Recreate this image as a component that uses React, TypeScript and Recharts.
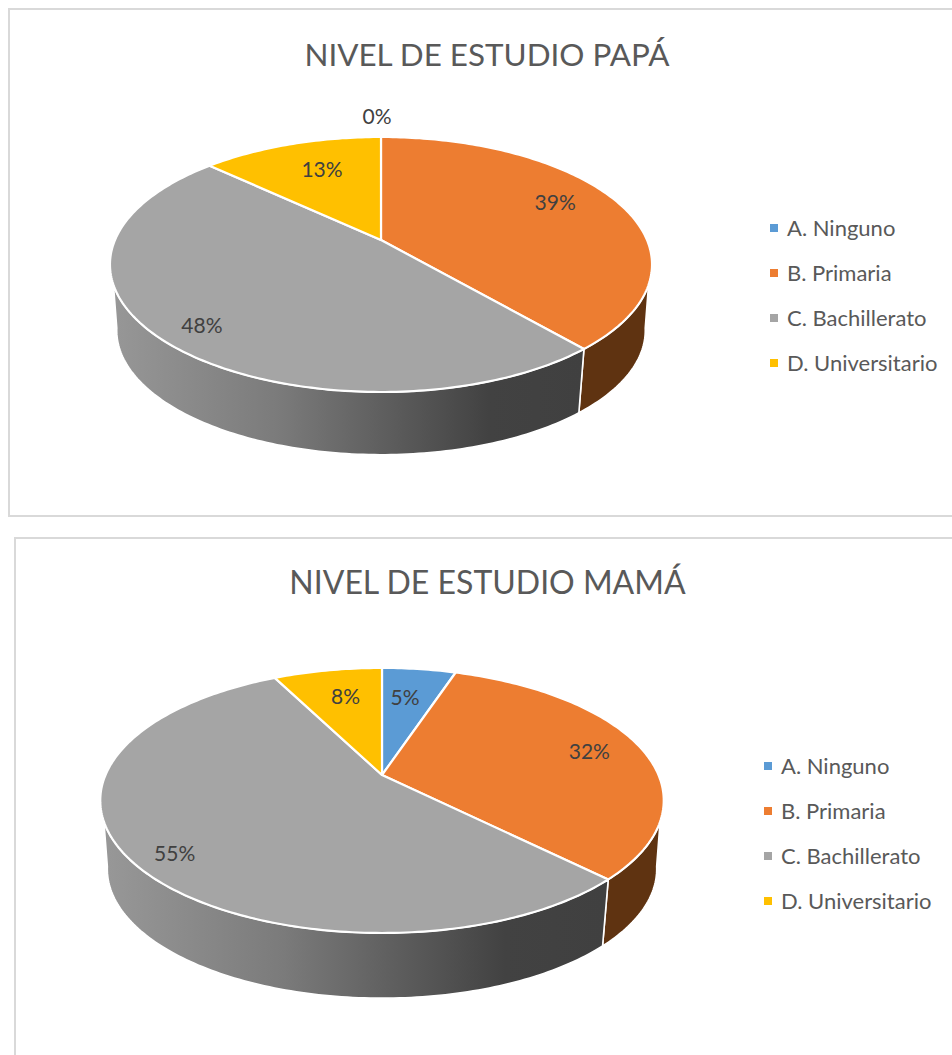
import React from 'react';
import { PieChart, Pie, Cell, Legend } from 'recharts';

const categories = ['A. Ninguno', 'B. Primaria', 'C. Bachillerato', 'D. Universitario'];
// the labels show them rounded
const papaValues = [0, 38.7, 48.3, 13];
const mamaValues = [5.1, 32.4, 55, 7.5];
const colors = ['#5B9BD5', '#ED7D31', '#A5A5A5', '#FFC000'];

const FONT = 'Lato, "Open Sans", sans-serif';

// perspective of the tilted disc
const TILT = 0.192; // how much nearer the front edge is
const FLATTEN = 0.4617; // height / width of the disc
const DEPTH = 0.25; // wall height, share of the radius
const BOTTOM_SCALE = 0.975;
const WALL_FROM = 110; // degrees clockwise from the top
const WALL_TO = 250;
const WALL_FLARE = 10; // the lower rim runs a bit further round

const rad = (deg: number) => (deg * Math.PI) / 180;

// clock = degrees clockwise from 12 o'clock, r = share of the radius
function project(cx: number, cy: number, radius: number, clock: number, r = 1, bottom = false) {
  const u = r * Math.sin(rad(clock));
  const v = r * Math.cos(rad(clock));
  const w = 1 + TILT * v;
  const x = (radius * u) / w;
  const y = (radius * FLATTEN * v) / w;
  if (bottom) {
    return { x: cx + x * BOTTOM_SCALE, y: cy - y * BOTTOM_SCALE + radius * DEPTH };
  }
  return { x: cx + x, y: cy - y };
}

function arcPoints(cx: number, cy: number, radius: number, from: number, to: number, bottom = false) {
  const pts: string[] = [];
  const n = Math.max(2, Math.ceil(Math.abs(to - from)));
  for (let i = 0; i <= n; i++) {
    const p = project(cx, cy, radius, from + ((to - from) * i) / n, 1, bottom);
    pts.push(`${p.x.toFixed(2)} ${p.y.toFixed(2)}`);
  }
  return pts;
}

function makeSector(gradId: string) {
  return (props: any) => {
    const { cx, cy, outerRadius, startAngle, endAngle, fill } = props;
    const from = 90 - startAngle;
    const to = 90 - endAngle;
    const top = arcPoints(cx, cy, outerRadius, from, to);
    const wallFrom = Math.max(from, WALL_FROM);
    const wallTo = Math.min(to, WALL_TO);
    let wall = null;
    if (wallTo > wallFrom) {
      const a = arcPoints(cx, cy, outerRadius, wallFrom, wallTo);
      const lowFrom = from < WALL_FROM ? WALL_FROM - WALL_FLARE : wallFrom;
      const lowTo = to > WALL_TO ? WALL_TO + WALL_FLARE : wallTo;
      const b = arcPoints(cx, cy, outerRadius, lowFrom, lowTo, true).reverse();
      const wallFill = fill === colors[1] ? '#5F3311' : `url(#${gradId})`;
      wall = <path d={`M${a.join('L')}L${b.join('L')}Z`} fill={wallFill} stroke="#fff" strokeWidth={1.6} />;
    }
    return (
      <g>
        {wall}
        {to > from && <path d={`M${cx} ${cy}L${top.join('L')}Z`} fill={fill} stroke="#fff" strokeWidth={2.2} strokeLinejoin="round" />}
      </g>
    );
  };
}

function makeLabel(nudges: number[][], fractions: number[]) {
  return (props: any) => {
    const { cx, cy, outerRadius, midAngle, index, value } = props;
    const p = project(cx, cy, outerRadius, 90 - midAngle, fractions[index]);
    return (
      <text
        x={p.x + nudges[index][0]}
        y={p.y + nudges[index][1]}
        textAnchor="middle"
        dominantBaseline="central"
        fontFamily={FONT}
        fontSize={21}
        fill="#404040"
      >
        {Math.round(value)}%
      </text>
    );
  };
}

function LegendBox({ payload }: any) {
  return (
    <div style={{ fontFamily: FONT, fontSize: 22, color: '#595959' }}>
      {(payload || []).map((item: any) => (
        <div key={item.value} style={{ display: 'flex', alignItems: 'center', height: 45 }}>
          <span style={{ width: 8, height: 8, background: item.color, marginRight: 9 }} />
          <span>{item.value}</span>
        </div>
      ))}
    </div>
  );
}

interface PanelProps {
  id: string;
  title: string;
  titleX: number;
  titleY: number;
  titleSize: number;
  values: number[];
  left: number;
  top: number;
  width: number;
  height: number;
  cx: number;
  cy: number;
  radius: number;
  legendLeft: number;
  legendTop: number;
  nudges: number[][];
  fractions: number[];
  gradX1: number;
  gradX2: number;
}

function Panel(p: PanelProps) {
  const rows = categories.map((name, i) => ({ name, value: p.values[i] }));
  const gradId = `wall-${p.id}`;
  return (
    <div style={{ position: 'absolute', left: p.left, top: p.top, width: p.width, height: p.height }}>
      <div
        style={{
          position: 'absolute',
          inset: 0,
          boxSizing: 'border-box',
          border: '2px solid #D9D9D9',
          borderRight: 'none',
        }}
      />
      <PieChart width={p.width} height={p.height} margin={{ top: 0, right: 0, bottom: 0, left: 0 }} style={{ position: 'absolute', left: 0, top: 0 }}>
        <defs>
          <linearGradient id={gradId} gradientUnits="userSpaceOnUse" x1={p.gradX1} x2={p.gradX2} y1={0} y2={0}>
            <stop offset="0" stopColor="#979797" />
            <stop offset="0.35" stopColor="#7B7B7B" />
            <stop offset="0.8" stopColor="#424242" />
            <stop offset="1" stopColor="#404040" />
          </linearGradient>
        </defs>
        <text x={p.titleX} y={p.titleY} textAnchor="middle" dominantBaseline="central" fontFamily={FONT} fontSize={p.titleSize} fill="#595959">
          {p.title}
        </text>
        <Pie
          data={rows}
          dataKey="value"
          nameKey="name"
          cx={p.cx}
          cy={p.cy}
          innerRadius={0}
          outerRadius={p.radius}
          startAngle={90}
          endAngle={-270}
          stroke="#fff"
          isAnimationActive={false}
          labelLine={false}
          shape={makeSector(gradId)}
          label={makeLabel(p.nudges, p.fractions)}
        >
          {rows.map((r, i) => (
            <Cell key={r.name} fill={colors[i]} />
          ))}
        </Pie>
        <Legend
          layout="vertical"
          content={<LegendBox />}
          wrapperStyle={{ left: p.legendLeft, top: p.legendTop, width: 190, bottom: 'auto', right: 'auto' }}
        />
      </PieChart>
    </div>
  );
}

export default function App() {
  return (
    <div style={{ position: 'absolute', left: 0, top: 0, width: 952, height: 1055, overflow: 'hidden', background: '#fff' }}>
      <Panel
        id="papa"
        title="NIVEL DE ESTUDIO PAPÁ"
        titleX={479}
        titleY={46}
        titleSize={31.4}
        values={papaValues}
        left={8}
        top={8}
        width={944}
        height={509}
        cx={373}
        cy={232}
        radius={266}
        legendLeft={762}
        legendTop={197}
        fractions={[1.25, 0.75, 0.75, 0.75]}
        nudges={[[-4, -1], [-4, -8], [-19, 14], [11, 3]]}
        gradX1={105}
        gradX2={575}
      />
      <Panel
        id="mama"
        title="NIVEL DE ESTUDIO MAMÁ"
        titleX={473.5}
        titleY={44}
        titleSize={32}
        values={mamaValues}
        left={14}
        top={537}
        width={938}
        height={560}
        cx={368}
        cy={238}
        radius={276.5}
        legendLeft={750}
        legendTop={206}
        fractions={[0.75, 0.75, 0.75, 0.75]}
        nudges={[[-6, 4], [12, -3], [-24, 16], [6, 2]]}
        gradX1={95}
        gradX2={590}
      />
    </div>
  );
}
